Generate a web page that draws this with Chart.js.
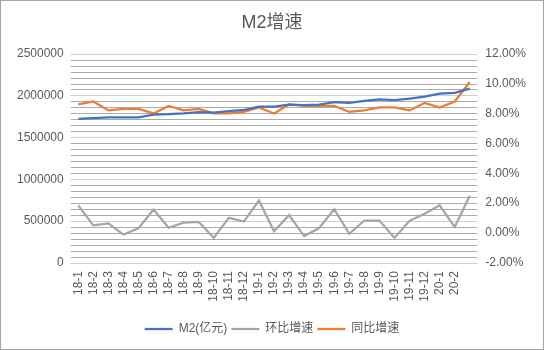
<!DOCTYPE html>
<html>
<head>
<meta charset="utf-8">
<script src="https://cdn.jsdelivr.net/npm/chart.js@4"></script>
<style>
  body { margin: 0; background: #fff; }
  #caja { width: 542px; height: 348px; border: 1px solid #a6a6a6; }
</style>
</head>
<body>
<div id="caja"><canvas id="area-grafico"></canvas></div>
<script>
// meses (el ultimo punto no tiene etiqueta en el original)
const meses = ['18-1', '18-2', '18-3', '18-4', '18-5', '18-6', '18-7', '18-8', '18-9', '18-10', '18-11', '18-12',
    '19-1', '19-2', '19-3', '19-4', '19-5', '19-6', '19-7', '19-8', '19-9', '19-10', '19-11', '19-12',
    '20-1', '20-2', ''];

// M2 (亿元)
const m2 = [1720800, 1729600, 1739300, 1737700, 1740000, 1770200, 1776200, 1786700, 1801700, 1795600, 1813200, 1826700,
    1865900, 1867400, 1889400, 1884700, 1891500, 1921400, 1913200, 1935500, 1952300, 1945600, 1961400, 1986500,
    2023100, 2030800, 2080900];

// 环比增速 (%)
const huanbi = [1.85, 0.52, 0.65, -0.1, 0.32, 1.58, 0.36, 0.7, 0.75, -0.32, 1.02, 0.77,
    2.18, 0.12, 1.2, -0.2, 0.34, 1.6, -0.05, 0.84, 0.84, -0.32, 0.82, 1.3,
    1.86, 0.4, 2.5];

// 同比增速 (%)
const tongbi = [8.6, 8.8, 8.2, 8.3, 8.3, 8.0, 8.5, 8.2, 8.3, 8.0, 8.0, 8.1,
    8.4, 8.0, 8.6, 8.5, 8.5, 8.5, 8.1, 8.2, 8.4, 8.4, 8.2, 8.7,
    8.4, 8.8, 10.1];

const fuente = "'Liberation Sans', 'Noto Sans CJK SC', sans-serif";
const gris = '#595959';

function esMultiplo(v, paso) {
    const r = (v + 2) / paso;
    return Math.abs(r - Math.round(r)) < 1e-6;
}

// lineas de la grilla a partir de los ticks del eje derecho
const grilla = {
    id: 'grilla',
    beforeDatasetsDraw(chart) {
        const escala = chart.scales.y1;
        const area = chart.chartArea;
        const c = chart.ctx;
        c.save();
        c.lineWidth = 1;
        escala.ticks.forEach((t) => {
            const y = Math.round(escala.getPixelForValue(t.value)) + 0.5;
            c.strokeStyle = esMultiplo(t.value, 2.8) ? '#cfcfcf' : '#ababab';
            c.beginPath();
            c.moveTo(area.left, y);
            c.lineTo(area.right, y);
            c.stroke();
        });
        c.restore();
    }
};

var ctx = document.getElementById('area-grafico');
new Chart(ctx, {
    type: 'line',
    data: {
        labels: meses,
        datasets: [
            { label: 'M2(亿元)', data: m2, yAxisID: 'y', borderColor: '#4472C4', backgroundColor: '#4472C4', borderWidth: 2.25 },
            { label: '环比增速', data: huanbi, yAxisID: 'y1', borderColor: '#A5A5A5', backgroundColor: '#A5A5A5', borderWidth: 2.25 },
            { label: '同比增速', data: tongbi, yAxisID: 'y1', borderColor: '#ED7D31', backgroundColor: '#ED7D31', borderWidth: 2.25 }
        ]
    },
    plugins: [grilla],
    options: {
        responsive: true,
        maintainAspectRatio: false,
        animation: false,
        elements: {
            line: { tension: 0 },
            point: { radius: 0 }
        },
        layout: { padding: { left: 9, right: 9, top: 2, bottom: 4 } },
        plugins: {
            title: {
                display: true,
                text: 'M2增速',
                color: gris,
                font: { family: fuente, size: 18, weight: 'normal' },
                padding: { top: 9, bottom: 20 }
            },
            legend: {
                position: 'bottom',
                labels: {
                    usePointStyle: true,
                    pointStyle: 'line',
                    pointStyleWidth: 28,
                    color: gris,
                    font: { family: fuente, size: 12 },
                    padding: 4
                }
            },
            tooltip: { enabled: false }
        },
        scales: {
            x: {
                offset: true,
                grid: { display: false, drawTicks: false },
                border: { display: false },
                afterFit: (s) => {
                    s.paddingLeft = 0;
                    s.paddingRight = 0;
                    s.height = 56;
                },
                ticks: {
                    color: gris,
                    font: { family: fuente, size: 12 },
                    minRotation: 90,
                    maxRotation: 90,
                    autoSkip: false,
                    padding: 8
                }
            },
            y: {
                position: 'left',
                min: 0,
                max: 2500000,
                grid: { display: false, drawTicks: false },
                border: { display: false },
                ticks: {
                    stepSize: 500000,
                    color: gris,
                    font: { family: fuente, size: 12 },
                    padding: 7,
                    callback: (v) => String(v)
                }
            },
            y1: {
                position: 'right',
                min: -2,
                max: 12,
                border: { display: false },
                grid: { display: false, drawTicks: false },
                ticks: {
                    stepSize: 0.4,
                    autoSkip: false,
                    color: gris,
                    font: { family: fuente, size: 12 },
                    padding: 8,
                    callback: (v) => esMultiplo(v, 2) ? v.toFixed(2) + '%' : ''
                }
            }
        }
    }
});
</script>
</body>
</html>
